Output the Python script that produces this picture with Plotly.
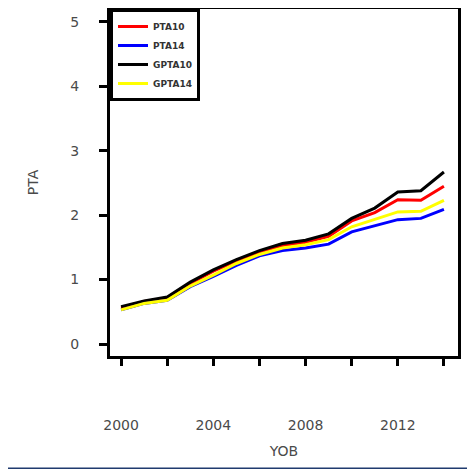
import plotly.graph_objects as go

years = list(range(2000, 2015))
pta10 = [0.56, 0.66, 0.71, 0.94, 1.13, 1.29, 1.43, 1.53, 1.58, 1.67, 1.91, 2.04, 2.24, 2.23, 2.45]
pta14 = [0.53, 0.63, 0.68, 0.89, 1.05, 1.22, 1.37, 1.45, 1.49, 1.55, 1.74, 1.84, 1.93, 1.95, 2.09]
gpta10 = [0.58, 0.67, 0.73, 0.96, 1.15, 1.31, 1.45, 1.56, 1.61, 1.71, 1.95, 2.11, 2.36, 2.38, 2.67]
gpta14 = [0.53, 0.63, 0.68, 0.90, 1.07, 1.25, 1.39, 1.49, 1.54, 1.62, 1.82, 1.94, 2.05, 2.06, 2.23]

series_names = ["PTA10", "PTA14", "GPTA10", "GPTA14"]
series_values = [pta10, pta14, gpta10, gpta14]
colors = ["#ff0000", "#0000ff", "#000000", "#ffff00"]

x_tickvals = [2000, 2002, 2004, 2006, 2008, 2010, 2012, 2014]
x_ticktext = ["2000", "", "2004", "", "2008", "", "2012", ""]
y_tickvals = [0, 1, 2, 3, 4, 5]

fig = go.Figure()
for name, vals, c in zip(series_names, series_values, colors):
    fig.add_trace(go.Scatter(x=years, y=vals, mode="lines", name=name,
                             line=dict(color=c, width=3)))

txt = "#4a4a4a"
fnt = "DejaVu Sans, Arial, sans-serif"
fig.update_layout(
    template="none",
    width=467, height=461,
    margin=dict(l=102, r=17, t=1, b=113, autoexpand=False),
    paper_bgcolor="white", plot_bgcolor="white",
    font=dict(family=fnt, color=txt, size=13),
    showlegend=True,
    legend=dict(x=0, y=1, xanchor="left", yanchor="top",
                bgcolor="white", bordercolor="black", borderwidth=3,
                font=dict(size=9, color="#333333", family="DejaVu Sans, sans-serif", weight="bold"),
                tracegroupgap=0, itemwidth=30, entrywidth=62),
    xaxis=dict(range=[1999.52, 2014.61], tickvals=x_tickvals, ticktext=x_ticktext,
               automargin=False,
               showgrid=False, zeroline=False, showline=True, linecolor="black",
               linewidth=3, mirror=True, ticks="outside", ticklen=7, tickwidth=3,
               tickcolor="black", ticklabelstandoff=47,
               tickfont=dict(size=14, color=txt, family=fnt),
               title=dict(text="YOB", standoff=15, font=dict(size=14, color=txt, family=fnt))),
    yaxis=dict(range=[-0.186, 5.2], tickvals=y_tickvals,
               automargin=False,
               showgrid=False, zeroline=False, showline=True, linecolor="black",
               linewidth=3, mirror=True, ticks="outside", ticklen=8, tickwidth=3,
               tickcolor="black", ticklabelstandoff=17,
               tickfont=dict(size=14, color=txt, family=fnt),
               title=dict(text="PTA", standoff=29, font=dict(size=14, color=txt, family=fnt))),
    shapes=[dict(type="line", xref="paper", yref="paper", x0=-0.32, x1=1.06,
                 y0=-0.324, y1=-0.324, line=dict(color="#1f3a6e", width=2))],
)

fig.write_html("out.html")
